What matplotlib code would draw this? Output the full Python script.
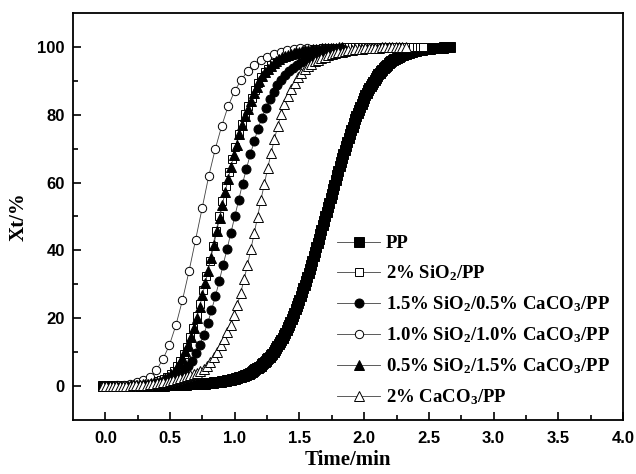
import matplotlib
matplotlib.use("Agg")
import matplotlib.pyplot as plt
import numpy as np
from matplotlib.ticker import MultipleLocator, FixedLocator, FormatStrFormatter

plt.rcParams["mathtext.fontset"] = "custom"
plt.rcParams["mathtext.rm"] = "Liberation Serif:bold"
plt.rcParams["mathtext.default"] = "rm"

# relative crystallinity Xt (%), one value per sample time.
# each series is sampled on its own regular time grid (first time, step) in min
pp_start, pp_step = -0.02, 0.01
pp_xt = [
    0.0, 0.0, 0.0, 0.0, 0.0, 0.0, 0.0, 0.0, 0.0, 0.0,
    0.0, 0.0, 0.0, 0.0, 0.0, 0.0, 0.0, 0.0, 0.0, 0.0,
    0.0, 0.0, 0.0, 0.0, 0.0, 0.0, 0.0, 0.0, 0.0, 0.0,
    0.0, 0.0, 0.0, 0.0, 0.0, 0.0, 0.0, 0.0,
    0.1, 0.1, 0.1, 0.1, 0.1, 0.1, 0.1, 0.1, 0.1, 0.1,
    0.2, 0.2, 0.2, 0.2, 0.2, 0.2, 0.2,
    0.3, 0.3, 0.3, 0.3, 0.3, 0.4, 0.4, 0.4, 0.4, 0.4,
    0.5, 0.5, 0.5, 0.5, 0.5, 0.6, 0.6, 0.6, 0.6, 0.6,
    0.7, 0.7, 0.7, 0.7, 0.7, 0.8, 0.8, 0.8,
    0.9, 0.9, 1.0, 1.1, 1.1, 1.2, 1.2, 1.3, 1.3, 1.4,
    1.4, 1.5, 1.6, 1.7, 1.8, 1.8, 1.9, 2.0, 2.1, 2.2,
    2.3, 2.4, 2.6, 2.7, 2.8, 3.0, 3.1, 3.2, 3.4, 3.5,
    3.7, 3.9, 4.2, 4.4, 4.7, 4.9, 5.2, 5.4, 5.7, 6.0,
    6.4, 6.7, 7.1, 7.5, 7.9, 8.3, 8.7, 9.1, 9.6, 10.1,
    10.6, 11.1, 11.7, 12.3, 13.0, 13.7, 14.3, 15.0, 15.8, 16.5,
    17.3, 18.1, 18.9, 19.8, 20.7, 21.6, 22.6, 23.6, 24.5, 25.5,
    26.5, 27.7, 28.8, 29.9, 31.0, 32.2, 33.4, 34.6, 35.8, 37.0,
    38.3, 39.6, 40.9, 42.2, 43.5, 44.8, 46.1, 47.4, 48.7, 50.0,
    51.4, 52.7, 54.0, 55.4, 56.7, 58.1, 59.4, 60.8, 62.1, 63.5,
    64.8, 66.0, 67.3, 68.5, 69.7, 70.9, 72.1, 73.2, 74.4, 75.5,
    76.5, 77.6, 78.6, 79.6, 80.5, 81.4, 82.3, 83.2, 84.1, 85.0,
    85.7, 86.5, 87.2, 87.8, 88.5, 89.1, 89.7, 90.3, 90.9, 91.5,
    91.9, 92.4, 92.8, 93.3, 93.7, 94.1, 94.5, 94.8, 95.2, 95.5,
    95.8, 96.0, 96.3, 96.5, 96.7, 96.9, 97.1, 97.3, 97.5, 97.7,
    97.8, 98.0, 98.1, 98.2, 98.3, 98.5, 98.6, 98.7, 98.8, 98.9,
    99.0, 99.0, 99.1, 99.2, 99.2, 99.3, 99.3, 99.4, 99.4, 99.5,
    99.5, 99.6, 99.6, 99.6, 99.7, 99.7, 99.7, 99.8, 99.8, 99.8,
    99.8, 99.9, 99.9, 99.9, 99.9, 100.0,
]

si2_start, si2_step = -0.02, 0.025
si2_xt = [
    0.0, 0.0, 0.0, 0.1, 0.1, 0.1, 0.1, 0.1, 0.1, 0.2,
    0.2, 0.3, 0.4, 0.6, 0.7, 0.9, 1.1, 1.4, 1.7, 2.1,
    2.6, 3.5, 4.5, 5.9, 7.5, 9.5, 11.6, 14.4, 17.2, 20.7,
    24.3, 28.3, 32.4, 36.8, 41.2, 45.6, 50.0, 54.5, 58.9, 63.0,
    67.0, 70.6, 74.2, 77.2, 80.2, 82.6, 85.0, 87.2, 89.5, 91.1,
    92.5, 93.6, 94.6, 95.4, 96.2, 96.8, 97.3, 97.7, 98.0, 98.3,
    98.5, 98.7, 98.9, 99.1, 99.2, 99.3, 99.4, 99.5, 99.6, 99.6,
    99.7, 99.7, 99.8, 99.8, 99.8, 99.9, 99.9, 99.9, 99.9, 99.9,
    99.9, 99.9, 99.9, 99.9, 99.9, 100.0, 100.0, 100.0, 100.0, 100.0,
    100.0, 100.0, 100.0, 100.0, 100.0, 100.0, 100.0, 100.0, 100.0, 100.0,
]

s15_start, s15_step = -0.02, 0.03
s15_xt = [
    0.0, 0.0, 0.0, 0.0, 0.0, 0.0, 0.0, 0.1, 0.1, 0.1,
    0.2, 0.3, 0.4, 0.6, 0.7, 1.0, 1.2, 1.5, 1.9, 2.4,
    3.2, 4.3, 5.9, 7.5, 9.7, 12.1, 15.2, 18.5, 22.3, 26.5,
    30.9, 35.8, 40.3, 45.2, 50.0, 54.8, 59.7, 64.1, 68.3, 72.2,
    75.9, 79.1, 81.9, 84.5, 86.7, 88.7, 90.3, 91.8, 92.9, 93.9,
    94.8, 95.5, 96.2, 96.7, 97.2, 97.6, 98.0, 98.3, 98.6, 98.9,
    99.0, 99.2, 99.4,
]

s10_start, s10_step = -0.01, 0.0505
s10_xt = [
    0.0, 0.1, 0.2, 0.4, 0.7, 1.1, 1.7, 2.6, 4.7, 7.9,
    12.1, 18.0, 25.4, 33.9, 43.1, 52.4, 61.8, 69.8, 76.7, 82.6,
    87.1, 90.3, 93.0, 94.7, 96.0, 97.1, 97.9, 98.5, 99.0, 99.3,
    99.6, 99.8,
]

s05_start, s05_step = -0.02, 0.022
s05_xt = [
    0.0, 0.0, 0.0, 0.0, 0.1, 0.1, 0.1, 0.1, 0.1, 0.1,
    0.2, 0.2, 0.3, 0.4, 0.5, 0.6, 0.7, 0.9, 1.1, 1.3,
    1.6, 1.9, 2.3, 2.7, 3.5, 4.3, 5.5, 6.8, 8.4, 10.2,
    12.2, 14.6, 17.1, 20.2, 23.3, 26.8, 30.3, 34.0, 37.9, 41.7,
    45.6, 49.5, 53.4, 57.3, 61.0, 64.6, 68.0, 71.2, 74.3, 77.0,
    79.6, 81.8, 84.0, 86.5, 88.3, 90.0, 91.4, 92.6, 93.5, 94.4,
    95.2, 95.9, 96.5, 97.0, 97.4, 97.7, 98.0, 98.2, 98.4, 98.6,
    98.8, 99.0, 99.1, 99.2, 99.3, 99.4, 99.5, 99.6, 99.6, 99.7,
    99.7, 99.8, 99.8, 99.9, 99.9,
]

ca2_start, ca2_step = -0.02, 0.026
ca2_xt = [
    0.0, 0.0, 0.0, 0.0, 0.0, 0.1, 0.1, 0.1, 0.1, 0.2,
    0.2, 0.2, 0.3, 0.4, 0.5, 0.6, 0.8, 0.9, 1.1, 1.3,
    1.5, 1.8, 2.0, 2.3, 2.6, 2.9, 3.2, 3.6, 3.9, 4.4,
    5.0, 6.0, 7.1, 8.5, 10.1, 12.0, 14.0, 16.0, 18.0, 20.9,
    24.0, 27.5, 31.5, 35.7, 40.3, 45.0, 49.9, 54.9, 59.5, 64.2,
    68.6, 72.8, 76.6, 80.2, 83.1, 85.6, 87.7, 89.5, 91.0, 92.3,
    93.4, 94.3, 95.0, 95.7, 96.2, 96.7, 97.1, 97.5, 97.8, 98.1,
    98.4, 98.6, 98.8, 99.0, 99.2, 99.3, 99.4, 99.5, 99.6, 99.7,
    99.7, 99.8, 99.8, 99.9, 99.9, 99.9, 100.0, 100.0, 100.0, 100.0,
    100.0,
]

labels = [
    "PP",
    "2% SiO$_2$/PP",
    "1.5% SiO$_2$/0.5% CaCO$_3$/PP",
    "1.0% SiO$_2$/1.0% CaCO$_3$/PP",
    "0.5% SiO$_2$/1.5% CaCO$_3$/PP",
    "2% CaCO$_3$/PP",
]

series = [
    (pp_start, pp_step, pp_xt, "s", "black", 7.0),
    (si2_start, si2_step, si2_xt, "s", "white", 5.5),
    (s15_start, s15_step, s15_xt, "o", "black", 6.5),
    (s10_start, s10_step, s10_xt, "o", "white", 6.0),
    (s05_start, s05_step, s05_xt, "^", "black", 6.5),
    (ca2_start, ca2_step, ca2_xt, "^", "white", 6.5),
]

fig = plt.figure(figsize=(6.36, 4.74), dpi=100)
ax = fig.add_axes([0.1148, 0.1139, 0.8648, 0.8587])

for (t0, dt, xt, marker, face, size), label in zip(series, labels):
    times = t0 + dt * np.arange(len(xt))
    ax.plot(
        times,
        xt,
        color="0.25",
        lw=0.6,
        marker=marker,
        markersize=size,
        markerfacecolor=face,
        markeredgecolor="black",
        markeredgewidth=0.7,
        label=label,
    )

ax.set_xlim(-0.25, 4.0)
ax.set_ylim(-10, 110)
ax.xaxis.set_major_locator(MultipleLocator(0.5))
ax.xaxis.set_major_formatter(FormatStrFormatter("%.1f"))
ax.xaxis.set_minor_locator(FixedLocator([0.25, 0.75, 1.25, 1.75, 2.25, 2.75, 3.25, 3.75]))
ax.yaxis.set_major_locator(MultipleLocator(20))
ax.yaxis.set_minor_locator(FixedLocator([10, 30, 50, 70, 90]))
ax.tick_params(which="both", direction="in", top=False, right=False, width=1.2)
ax.tick_params(axis="x", pad=8)
ax.tick_params(axis="y", pad=6)
ax.tick_params(which="major", length=6)
ax.tick_params(which="minor", length=3.5)
for lab in ax.get_xticklabels() + ax.get_yticklabels():
    lab.set_fontfamily("Liberation Sans")
    lab.set_fontweight("bold")
    lab.set_fontsize(12)
for side in ["left", "bottom", "right", "top"]:
    ax.spines[side].set_linewidth(1.3)

ax.set_xlabel("Time/min", fontfamily="Liberation Serif", fontweight="bold", fontsize=15, labelpad=3)
ax.set_ylabel("Xt/%", fontfamily="Liberation Serif", fontweight="bold", fontsize=15, labelpad=6)

ax.legend(
    loc="lower right",
    bbox_to_anchor=(1.007, -0.01),
    frameon=False,
    handlelength=2.3,
    handletextpad=0.3,
    labelspacing=0.6,
    prop={"family": "Liberation Serif", "weight": "bold", "size": 13.5},
)

fig.savefig("out.png", dpi=100)
